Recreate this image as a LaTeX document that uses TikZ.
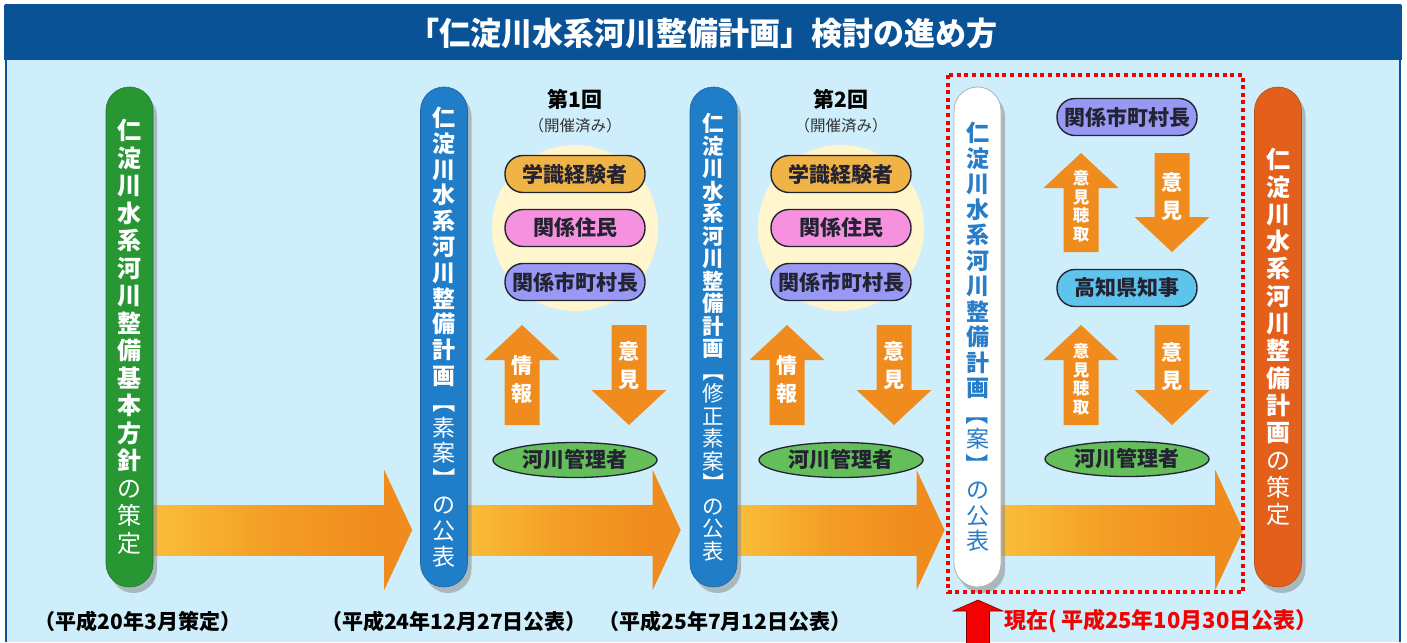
\documentclass[tikz,border=0pt]{standalone}
\usepackage{fontspec}
\usepackage{graphicx}
\setmainfont{Noto Sans CJK JP}
\usetikzlibrary{shadows,calc,shapes.geometric}
\pgfdeclarelayer{back}
\pgfsetlayers{back,main}
\definecolor{bgblue}{RGB}{205,238,250}
\definecolor{titleblue}{RGB}{10,82,150}
\definecolor{pgreen}{RGB}{40,150,50}
\definecolor{pblue}{RGB}{32,125,200}
\definecolor{porange}{RGB}{226,96,28}
\definecolor{aorange}{RGB}{240,140,30}
\definecolor{ayellow}{RGB}{255,222,75}
\definecolor{amid}{RGB}{244,158,38}
\definecolor{circyel}{RGB}{255,246,205}
\definecolor{pillor}{RGB}{240,180,70}
\definecolor{pillpk}{RGB}{245,145,222}
\definecolor{pillvi}{RGB}{152,152,245}
\definecolor{pillsk}{RGB}{95,196,236}
\definecolor{ellgr}{RGB}{100,190,90}
\definecolor{darkline}{RGB}{35,35,50}
\definecolor{whiteblue}{RGB}{40,125,200}
\definecolor{redline}{RGB}{245,0,0}
\lineskiplimit=-100pt
\newcommand{\vopen}{\rotatebox[origin=c]{-90}{【}}
\newcommand{\vclose}{\rotatebox[origin=c]{-90}{】}}
\pgfdeclarehorizontalshading{arrowgrad}{100bp}{color(0bp)=(ayellow); color(50bp)=(amid); color(72bp)=(aorange); color(100bp)=(aorange)}
\newcommand{\myup}[3]{\fill[aorange] (#1,#2) -- (#1+37.5,#2+35) -- (#1+17.5,#2+35) -- (#1+17.5,#3) -- (#1-17.5,#3) -- (#1-17.5,#2+35) -- (#1-37.5,#2+35) -- cycle;}
\newcommand{\mydown}[3]{\fill[aorange] (#1,#3) -- (#1+37.5,#3-35) -- (#1+17.5,#3-35) -- (#1+17.5,#2) -- (#1-17.5,#2) -- (#1-17.5,#3-35) -- (#1-37.5,#3-35) -- cycle;}
\newcommand{\flowarrow}[2]{%
  \shade[shading=arrowgrad] ($(#1)+(0,-25)$) rectangle ($(#2)+(-27,25)$);
  \fill[aorange] ($(#2)+(-28,-60)$) -- (#2) -- ($(#2)+(-28,60)$) -- cycle;}
\tikzset{
  pillar/.style={rectangle, rounded corners=23.5pt, minimum width=47pt, minimum height=500pt,
    inner sep=0pt, align=center, text=white,
    execute at begin node={\lineskiplimit=-100pt\lineskip=0pt},
    drop shadow={shadow xshift=4pt, shadow yshift=-6pt, fill=black!45, opacity=0.55}},
  pill/.style={rectangle, rounded corners=18pt, minimum width=140pt, minimum height=37pt,
    draw=darkline, line width=1.4pt, inner sep=0pt, text=darkline,
    font=\fontsize{21}{21}\selectfont\bfseries},
  keeper/.style={ellipse, minimum width=164pt, minimum height=35pt, draw=darkline,
    line width=1.3pt, fill=ellgr, inner sep=0pt, text=darkline,
    font=\fontsize{21}{21}\selectfont\bfseries},
  arrtext/.style={align=center, inner sep=0pt, text=white,
    font=\fontsize{21}{28}\selectfont\bfseries},
  arrsmall/.style={align=center, inner sep=0pt, text=white,
    font=\fontsize{16.5}{18.5}\selectfont\bfseries},
  datelabel/.style={inner sep=0pt, font=\fontsize{21}{21}\selectfont\bfseries, text=black},
  roundhead/.style={inner sep=0pt, font=\fontsize{21}{21}\selectfont\bfseries, text=black},
  roundsub/.style={inner sep=0pt, font=\fontsize{15.5}{15.5}\selectfont, text=black!80},
}
\begin{document}
\begin{tikzpicture}[x=1pt,y=-1pt]
\useasboundingbox (0,0) rectangle (1407,642);
% background and frame
\begin{pgfonlayer}{back}
\fill[white] (0,0) rectangle (1407,642);
\fill[bgblue] (6,5) rectangle (1400,642);
\fill[titleblue] (4,5) rectangle (1402,60);
\draw[titleblue, line width=2pt] (6,642) -- (6,5) -- (1400,5) -- (1400,642);
\fill[circyel] (575,228) circle (83);
\fill[circyel] (841,228) circle (83);
\end{pgfonlayer}
\node[font=\fontsize{32}{32}\selectfont\bfseries, text=white, xscale=0.97] (title) at (703,33) {「仁淀川水系河川整備計画」検討の進め方};

% pillars
\node[pillar, fill=pgreen, draw=pgreen!80!black, line width=0.6pt, font=\fontsize{24}{27.5}\selectfont\bfseries] (p1) at (129.5,337)
 {仁\\淀\\川\\水\\系\\河\\川\\整\\備\\基\\本\\方\\針\\\mdseries の\\\mdseries 策\\\mdseries 定};
\node[pillar, fill=pblue, draw=pblue!80!black, line width=0.6pt, font=\fontsize{23}{25.8}\selectfont\bfseries] (p2) at (444,337)
 {仁\\淀\\川\\水\\系\\河\\川\\整\\備\\計\\画\\\mdseries\vopen\\\mdseries 素\\\mdseries 案\\\mdseries\vclose\\\mdseries の\\\mdseries 公\\\mdseries 表};
\node[pillar, fill=pblue, draw=pblue!80!black, line width=0.6pt, font=\fontsize{21.5}{22.5}\selectfont\bfseries] (p3) at (713.5,337)
 {仁\\淀\\川\\水\\系\\河\\川\\整\\備\\計\\画\\\mdseries\vopen\\\mdseries 修\\\mdseries 正\\\mdseries 素\\\mdseries 案\\\mdseries\vclose\\\mdseries の\\\mdseries 公\\\mdseries 表};
\node[pillar, fill=white, draw=black!30, line width=0.8pt, text=whiteblue, font=\fontsize{23}{25.5}\selectfont\bfseries] (p4) at (977.5,337)
 {仁\\淀\\川\\水\\系\\河\\川\\整\\備\\計\\画\\\mdseries\vopen\\\mdseries 案\\\mdseries\vclose\\\mdseries の\\\mdseries 公\\\mdseries 表};
\node[pillar, fill=porange, draw=porange!80!black, line width=0.6pt, font=\fontsize{24}{27.3}\selectfont\bfseries] (p5) at (1278,337)
 {仁\\淀\\川\\水\\系\\河\\川\\整\\備\\計\\画\\\mdseries の\\\mdseries 策\\\mdseries 定};

% flow arrows between pillars
\coordinate (s1) at (p1.east |- 0,530);
\coordinate (e1) at ($(p2.west |- 0,530)+(-8,0)$);
\coordinate (s2) at (p2.east |- 0,530);
\coordinate (e2) at ($(p3.west |- 0,530)+(-9,0)$);
\coordinate (s3) at (p3.east |- 0,530);
\coordinate (e3) at ($(p4.west |- 0,530)+(-9,0)$);
\coordinate (s4) at (p4.east |- 0,530);
\coordinate (e4) at ($(p5.west |- 0,530)+(-11,0)$);
\begin{pgfonlayer}{back}
\flowarrow{s1}{e1}
\flowarrow{s2}{e2}
\flowarrow{s3}{e3}
\flowarrow{s4}{e4}
\end{pgfonlayer}

% group 1
\node[roundhead] (r1) at (575,99) {第1回};
\node[roundsub] (r1s) at (575,126) {（開催済み）};
\node[pill, fill=pillor] (g1a) at (575,174) {学識経験者};
\node[pill, fill=pillpk] (g1b) at (575,228) {関係住民};
\node[pill, fill=pillvi] (g1c) at (575,282) {関係市町村長};
\myup{522}{325}{425}
\mydown{629}{325}{425}
\node[arrtext] (g1u) at (522,380) {情\\報};
\node[arrtext] (g1d) at (629,366) {意\\見};
\node[keeper] (g1k) at (575,460) {河川管理者};

% group 2
\node[roundhead] (r2) at (841,99) {第2回};
\node[roundsub] (r2s) at (841,126) {（開催済み）};
\node[pill, fill=pillor] (g2a) at (841,174) {学識経験者};
\node[pill, fill=pillpk] (g2b) at (841,228) {関係住民};
\node[pill, fill=pillvi] (g2c) at (841,282) {関係市町村長};
\myup{787}{325}{425}
\mydown{894}{325}{425}
\node[arrtext] (g2u) at (787,380) {情\\報};
\node[arrtext] (g2d) at (894,366) {意\\見};
\node[keeper] (g2k) at (841,460) {河川管理者};

% group 3
\node[pill, fill=pillvi] (g3a) at (1127,117) {関係市町村長};
\node[pill, fill=pillsk] (g3b) at (1127,288) {高知県知事};
\myup{1081}{153}{252}
\mydown{1172}{153}{252}
\myup{1081}{325}{425}
\mydown{1172}{325}{425}
\node[arrsmall] (g3u1) at (1081,206) {意\\見\\聴\\取};
\node[arrtext] (g3d1) at (1172,197) {意\\見};
\node[arrsmall] (g3u2) at (1081,379) {意\\見\\聴\\取};
\node[arrtext] (g3d2) at (1172,367) {意\\見};
\node[keeper] (g3k) at (1127,459) {河川管理者};

% current stage frame
\draw[redline, line width=4pt, dash pattern=on 4pt off 3.6pt] (948,75) rectangle (1243,592);
\fill[redline, draw=red!50!black, line width=0.6pt] (978,600) -- (1003,611) -- (989.5,611) -- (989.5,645) -- (966.5,645) -- (966.5,611) -- (953,611) -- cycle;

% date labels
\node[datelabel] (d1) at (138,621) {（平成20年3月策定）};
\node[datelabel] (d2) at (454,621) {（平成24年12月27日公表）};
\node[datelabel] (d3) at (725,621) {（平成25年7月12日公表）};
\node[datelabel, text=redline, font=\fontsize{22}{22}\selectfont\bfseries] (d4) at (1161,621) {現在(\,平成25年10月30日公表）};
\end{tikzpicture}
\end{document}
